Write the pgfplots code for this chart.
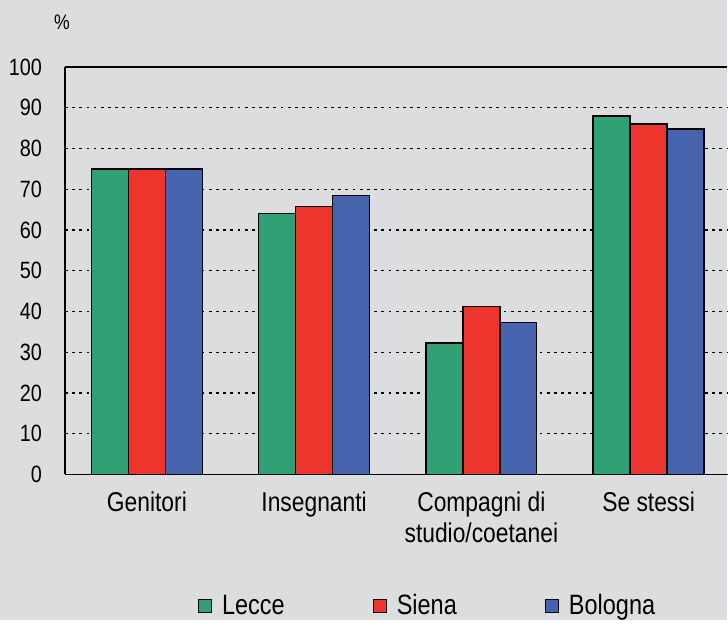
\documentclass[border=0pt]{standalone}
\usepackage{fontspec}
\setmainfont{Liberation Sans}[FakeStretch=0.84]
\usepackage{pgfplots}
\pgfplotsset{compat=1.18}
\definecolor{bg}{HTML}{DCDDDF}
\definecolor{cgreen}{HTML}{31A074}
\definecolor{cred}{HTML}{EE352D}
\definecolor{cblue}{HTML}{4663AE}
\begin{document}
\begin{tikzpicture}
\fill[bg] (0,0) rectangle (364pt,310.5pt);
\begin{axis}[
  at={(32.5pt,73pt)}, anchor=south west,
  scale only axis, width=331.5pt, height=204pt,
  ybar=0pt, bar width=18.5pt,
  xmin=-0.49, xmax=3.47, ymin=0, ymax=100,
  axis x line*=bottom, axis y line*=left,
  axis line style={line width=0.8pt, -},
  xtick=data,
  xticklabels={Genitori,Insegnanti,{Compagni di\\studio/coetanei},Se stessi},
  xticklabel style={align=center, font=\fontsize{13.6}{15.5}\selectfont, yshift=-5pt},
  ytick={0,10,...,90},
  extra y ticks={100},
  extra y tick style={grid=major, major grid style={solid, black, line width=0.8pt}},
  ymajorgrids,
  major grid style={dash pattern=on 1.4pt off 2.2pt, line width=0.55pt, black},
  major tick length=0pt,
  yticklabel style={font=\fontsize{11.8}{13}\selectfont, xshift=-8pt},
  /pgf/number format/assume math mode=true,
  legend style={at={(0.549,-0.3235)}, anchor=center, draw=none, fill=none,
    legend columns=3, font=\fontsize{14}{16}\selectfont,
    /tikz/every odd column/.append style={column sep=3pt},
    /tikz/every even column/.append style={column sep=42pt}},
  legend image code/.code={\draw[#1, draw=black, line width=0.6pt] (0pt,-3.25pt) rectangle (6.5pt,3.25pt);},
]
\addplot[fill=cgreen, draw=black, line width=0.7pt] coordinates {(0,75) (1,64) (2,32.3) (3,88)};
\addplot[fill=cred, draw=black, line width=0.7pt] coordinates {(0,75) (1,65.7) (2,41.2) (3,86)};
\addplot[fill=cblue, draw=black, line width=0.7pt] coordinates {(0,75) (1,68.5) (2,37.3) (3,84.8)};
\legend{Lecce,Siena,Bologna}
\end{axis}
\node[font=\fontsize{10.5}{12}\selectfont] at (31pt,299.5pt) {\%};
\end{tikzpicture}
\end{document}
